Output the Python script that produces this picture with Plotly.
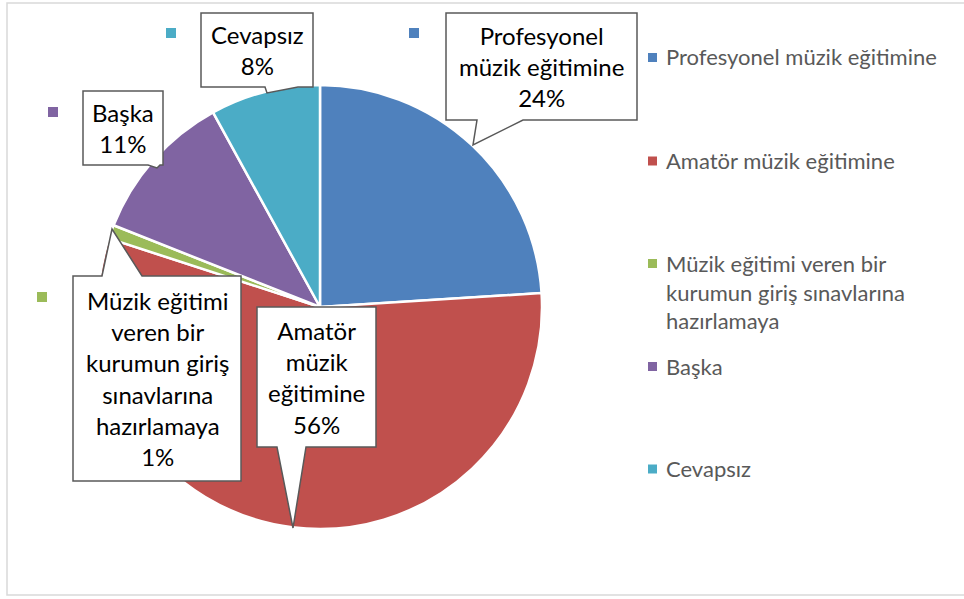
import plotly.graph_objects as go

W, H = 964, 599

categories = [
    "Profesyonel müzik eğitimine",
    "Amatör müzik eğitimine",
    "Müzik eğitimi veren bir kurumun giriş sınavlarına hazırlamaya",
    "Başka",
    "Cevapsız",
]
values = [24, 56, 1, 11, 8]
colors = ["#4F81BD", "#C0504D", "#9BBB59", "#8064A2", "#4BACC6"]
legend_labels = [
    "Profesyonel müzik eğitimine",
    "Amatör müzik eğitimine",
    "Müzik eğitimi veren bir<br>kurumun giriş sınavlarına<br>hazırlamaya",
    "Başka",
    "Cevapsız",
]
callout_labels = [
    "Profesyonel<br>müzik eğitimine<br>24%",
    "Amatör<br>müzik<br>eğitimine<br>56%",
    "Müzik eğitimi<br>veren bir<br>kurumun giriş<br>sınavlarına<br>hazırlamaya<br>1%",
    "Başka<br>11%",
    "Cevapsız<br>8%",
]

FONT = "Lato"


def px(x):
    return x / W


def py(y):
    return 1 - y / H


fig = go.Figure()
fig.add_trace(go.Pie(
    labels=categories,
    values=values,
    sort=False,
    direction="clockwise",
    rotation=0,
    marker=dict(colors=colors, line=dict(color="white", width=2.5)),
    textinfo="none",
    showlegend=False,
    domain=dict(x=[px(98), px(542)], y=[py(529), py(85)]),
))

shapes = []
annotations = []

# chart border
shapes.append(dict(type="rect", xref="paper", yref="paper",
                   x0=px(7), y0=py(595), x1=px(975), y1=py(3),
                   line=dict(color="#D9D9D9", width=1.5), fillcolor="rgba(0,0,0,0)"))

# callout boxes (box + pointer), pixel layout
# (box x0, y0, x1, y1, side, base a, base b, tip x, tip y)
callouts = [
    (446, 13, 637, 120, "bottom", 477, 523, 473, 145),
    (257, 307, 376, 447, "bottom", 277, 306, 293, 528),
    (73, 276, 241, 481, "top", 102, 142, 112, 229),
    (83, 91, 163, 165, "bottom", 148, 160, 157, 168),
    (201, 13, 313, 87, "bottom", 265, 298, 267, 93),
]
keys = [(414, 33), None, (42, 297), (53, 112), (171, 33)]

for i, (x0, y0, x1, y1, side, a, b, tx, ty) in enumerate(callouts):
    if side == "bottom":
        pts = [(x0, y0), (x1, y0), (x1, y1), (b, y1), (tx, ty), (a, y1), (x0, y1)]
    else:
        pts = [(x0, y0), (a, y0), (tx, ty), (b, y0), (x1, y0), (x1, y1), (x0, y1)]
    path = "M " + " L ".join(f"{px(x):.5f},{py(y):.5f}" for x, y in pts) + " Z"
    shapes.append(dict(type="path", xref="paper", yref="paper", path=path,
                       fillcolor="white", line=dict(color="#595959", width=1.5),
                       layer="above"))
    annotations.append(dict(xref="paper", yref="paper",
                            x=px((x0 + x1) / 2), y=py((y0 + y1) / 2),
                            text=callout_labels[i], showarrow=False,
                            xanchor="center", yanchor="middle", align="center",
                            font=dict(family=FONT, size=24, color="#000000")))
    if keys[i] is not None:
        kx, ky = keys[i]
        shapes.append(dict(type="rect", xref="paper", yref="paper",
                           x0=px(kx - 5), x1=px(kx + 5), y0=py(ky + 5), y1=py(ky - 5),
                           fillcolor=colors[i], line=dict(width=0), layer="above"))

# legend (manual)
legend_y = [57.5, 161, 263.5, 366.5, 469]
for i, lab in enumerate(legend_labels):
    cy = legend_y[i]
    shapes.append(dict(type="rect", xref="paper", yref="paper",
                       x0=px(648), x1=px(657), y0=py(cy + 4.5), y1=py(cy - 4.5),
                       fillcolor=colors[i], line=dict(width=0)))
    annotations.append(dict(xref="paper", yref="paper",
                            x=px(664), y=py(cy - 16),
                            text=lab, showarrow=False,
                            xanchor="left", yanchor="top", align="left",
                            font=dict(family=FONT, size=22, color="#595959")))

fig.update_layout(
    width=W, height=H,
    margin=dict(l=0, r=0, t=0, b=0),
    paper_bgcolor="white",
    plot_bgcolor="white",
    shapes=shapes,
    annotations=annotations,
)

fig.write_html("out.html", config={"displayModeBar": False},
               post_script="document.body.style.margin='0';")
